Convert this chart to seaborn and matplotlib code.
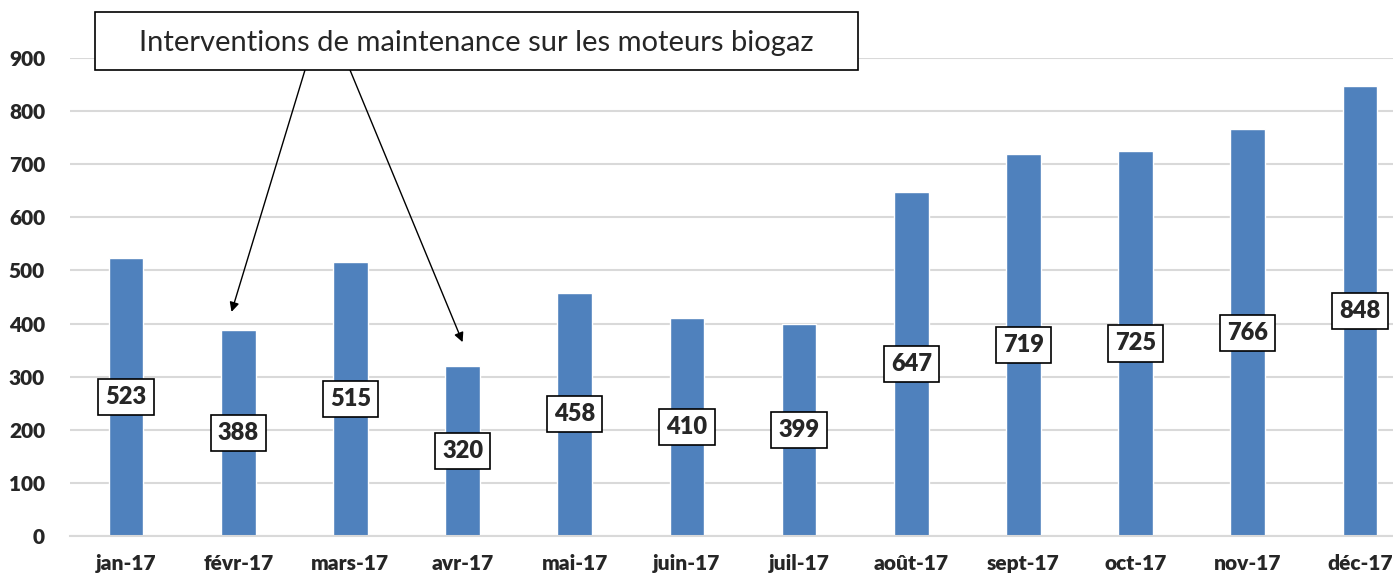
import matplotlib
matplotlib.use("Agg")
import matplotlib.pyplot as plt
import seaborn as sns
from matplotlib.patches import Rectangle

# Data
months = ["jan-17", "févr-17", "mars-17", "avr-17", "mai-17", "juin-17",
          "juil-17", "août-17", "sept-17", "oct-17", "nov-17", "déc-17"]
values = [523, 388, 515, 320, 458, 410, 399, 647, 719, 725, 766, 848]
y_ticks = [0, 100, 200, 300, 400, 500, 600, 700, 800, 900]
note = "Interventions de maintenance sur les moteurs biogaz"
note_targets = [("févr-17", 422), ("avr-17", 365)]

sns.set_style("white")
plt.rcParams['font.family'] = ['Lato', 'DejaVu Sans']

W, H = 1393, 578
fig = plt.figure(figsize=(W / 100, H / 100), dpi=100)
ax = fig.add_axes([70 / W, 1 - 536 / H, (1416 - 70) / W, (536 - 58) / H])

sns.barplot(x=months, y=values, color="#4F81BD", saturation=1, width=0.31, ax=ax)

ax.set_ylim(0, 900)
ax.set_yticks(y_ticks)
ax.yaxis.grid(True, color="#D9D9D9", linewidth=1.5)
ax.set_axisbelow(True)
for s in ["top", "right", "left"]:
    ax.spines[s].set_visible(False)
ax.spines["bottom"].set_color("#D9D9D9")
ax.spines["bottom"].set_linewidth(1.5)
ax.tick_params(length=0, labelsize=15)
ax.tick_params(axis="x", pad=13)
ax.tick_params(axis="y", pad=18)
for lab in ax.get_xticklabels() + ax.get_yticklabels():
    lab.set_fontweight("heavy")
ax.set_xlabel("")
ax.set_ylabel("")

ax.bar_label(ax.containers[0], label_type="center", fontsize=17, fontweight="heavy",
             bbox=dict(boxstyle="square,pad=0.3", fc="white", ec="black", lw=1.2))

# annotation box
fig.patches.append(Rectangle((95 / W, 1 - 70 / H), (858 - 95) / W, 58 / H,
                             transform=fig.transFigure, fc="white", ec="black", lw=1.2))
fig.text(476 / W, 1 - 43 / H, note, ha="center", va="center", fontsize=21)

starts = [(305 / W, 1 - 70 / H), (350 / W, 1 - 70 / H)]
offsets = [-0.06, 0.0]
for (m, yv), st, off in zip(note_targets, starts, offsets):
    ax.annotate("", xy=(months.index(m) + off, yv), xycoords="data",
                xytext=st, textcoords="figure fraction",
                arrowprops=dict(arrowstyle="-|>", color="black", lw=1.0,
                                mutation_scale=14, shrinkA=0, shrinkB=0))

fig.savefig("out.png", dpi=100)
